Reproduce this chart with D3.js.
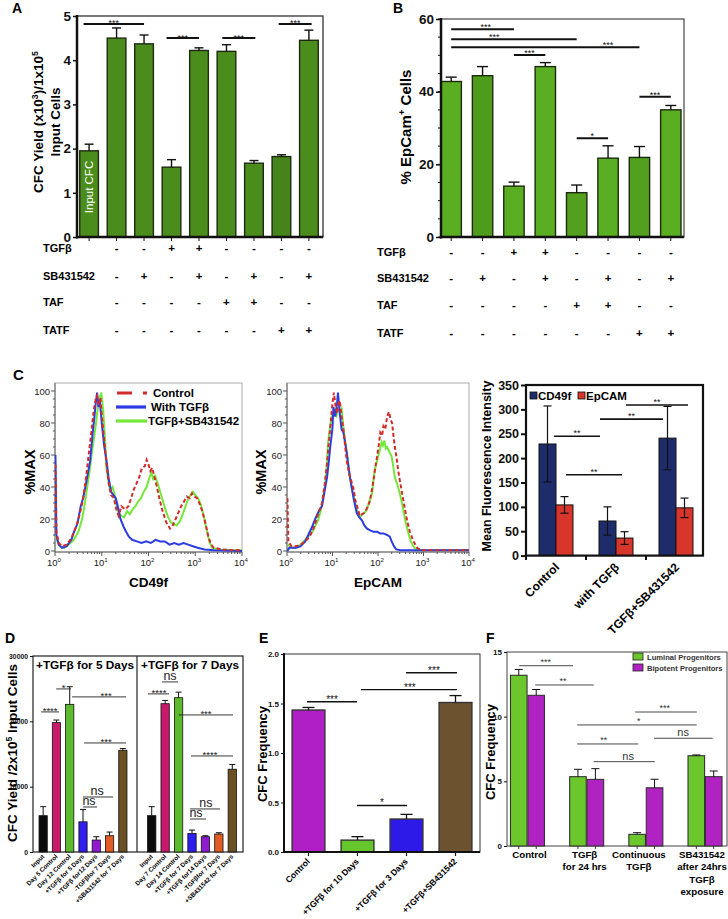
<!DOCTYPE html>
<html>
<head>
<meta charset="utf-8">
<script src="https://cdn.jsdelivr.net/npm/d3@7/dist/d3.min.js"></script>
<style>
  body { margin: 0; background: #fff; }
  svg text { font-family: "Liberation Sans", Arial, Helvetica, sans-serif; }
</style>
</head>
<body>
<svg id="figure" width="728" height="919"></svg>
<script>
// ---------------- Panel A ----------------
var aValues = [1.95, 4.50, 4.37, 1.58, 4.22, 4.20, 1.67, 1.82, 4.45];
var aErrors = [0.15, 0.23, 0.20, 0.17, 0.06, 0.15, 0.06, 0.04, 0.23];
var aRowNames = ["TGFβ", "SB431542", "TAF", "TATF"];
var aTGFb = ["", "-", "-", "+", "+", "-", "-", "-", "-"];
var aSB   = ["", "-", "+", "-", "+", "-", "+", "-", "+"];
var aTAF  = ["", "-", "-", "-", "-", "+", "+", "-", "-"];
var aTATF = ["", "-", "-", "-", "-", "-", "-", "+", "+"];
var aYTicks = [0, 1, 2, 3, 4, 5];
// [from bar, to bar, y value, label]
var aSig = [[-0.2, 2, 4.82, "***"], [2.82, 4, 4.5, "***"], [4.85, 6.05, 4.5, "***"], [6.9, 8.1, 4.82, "***"]];

// ---------------- Panel B ----------------
var bValues = [42.8, 44.4, 14.0, 46.9, 12.2, 21.7, 21.9, 35.0];
var bErrors = [1.2, 2.5, 1.1, 1.1, 2.1, 3.4, 3.0, 1.2];
var bTGFb = ["-", "-", "+", "+", "-", "-", "-", "-"];
var bSB   = ["-", "+", "-", "+", "-", "+", "-", "+"];
var bTAF  = ["-", "-", "-", "-", "+", "+", "-", "-"];
var bTATF = ["-", "-", "-", "-", "-", "-", "+", "+"];
var bYTicks = [0, 20, 40, 60];
// [from, to, y, label, label position]
var bSig = [[0, 2, 57.2, "***", 1.1], [0, 4, 54.4, "***", 1.37], [0, 6, 52.2, "***", 5.0],
            [2, 3, 50.1, "***"], [4, 5, 27.2, "*"], [6, 7, 38.6, "***"]];

// ---------------- Panel C : histograms [log10 intensity, %MAX] ----------------
var cd49fControl = [[0.01,54],[0.03,12],[0.08,5],[0.15,3],[0.25,4],[0.35,8],[0.45,15],[0.52,22],[0.6,32],[0.66,45],[0.72,60],[0.78,75],[0.83,88],[0.87,95],[0.9,97],[0.93,91],[0.97,96],[1.0,85],[1.05,70],[1.1,55],[1.15,42],[1.2,35],[1.26,33],[1.32,25],[1.36,22],[1.42,28],[1.5,26],[1.57,28],[1.63,33],[1.68,38],[1.74,42],[1.8,46],[1.86,52],[1.92,53],[1.96,57],[2.0,54],[2.04,50],[2.08,52],[2.13,46],[2.18,40],[2.24,32],[2.3,25],[2.38,18],[2.46,14],[2.52,16],[2.58,20],[2.64,24],[2.7,28],[2.76,31],[2.82,34],[2.88,33],[2.93,36],[2.98,34],[3.04,33],[3.1,29],[3.16,24],[3.22,17],[3.28,9],[3.34,4],[3.4,2],[3.6,1],[3.8,0.5],[4.0,0.5]];
var cd49fTGFb = [[0.01,60],[0.03,10],[0.08,4],[0.15,2],[0.25,3],[0.35,7],[0.42,13],[0.48,17],[0.55,28],[0.6,33],[0.65,40],[0.7,48],[0.75,56],[0.8,72],[0.84,83],[0.87,92],[0.9,99],[0.93,90],[0.96,94],[1.0,80],[1.05,66],[1.1,57],[1.15,45],[1.2,37],[1.25,35],[1.3,33],[1.35,27],[1.4,20],[1.47,15],[1.52,12],[1.58,9],[1.65,7],[1.75,6],[1.85,5],[1.95,6],[2.05,5],[2.15,7],[2.25,6],[2.35,6],[2.45,4],[2.55,5],[2.65,4],[2.75,5],[2.85,4],[2.95,3],[3.05,2],[3.2,1],[3.4,0.5],[4.0,0]];
var cd49fTGFbSB = [[0.02,10],[0.05,6],[0.1,3],[0.2,2],[0.3,4],[0.4,7],[0.5,12],[0.58,20],[0.64,30],[0.68,38],[0.74,50],[0.79,62],[0.83,70],[0.87,78],[0.9,86],[0.95,95],[0.99,99],[1.03,88],[1.07,70],[1.1,52],[1.14,44],[1.18,38],[1.23,40],[1.27,36],[1.32,28],[1.36,24],[1.42,22],[1.48,21],[1.54,25],[1.6,23],[1.66,26],[1.72,28],[1.78,31],[1.84,33],[1.9,37],[1.96,40],[2.01,45],[2.06,49],[2.1,45],[2.14,47],[2.19,43],[2.24,38],[2.3,32],[2.36,26],[2.42,21],[2.48,18],[2.53,17],[2.6,16],[2.66,18],[2.72,22],[2.78,27],[2.84,32],[2.9,35],[2.95,37],[3.0,35],[3.06,33],[3.12,29],[3.18,22],[3.24,14],[3.3,6],[3.36,2],[3.5,1],[3.8,0.5],[4.0,0.5]];
var epcamControl = [[0.01,33],[0.03,6],[0.1,3],[0.2,3],[0.3,4],[0.4,6],[0.5,9],[0.58,14],[0.65,20],[0.72,26],[0.77,30],[0.83,42],[0.88,55],[0.92,68],[0.96,80],[0.99,90],[1.03,99],[1.07,90],[1.1,86],[1.13,92],[1.16,94],[1.2,84],[1.24,76],[1.28,65],[1.32,55],[1.37,48],[1.43,42],[1.47,38],[1.5,32],[1.55,27],[1.6,22],[1.65,23],[1.71,24],[1.76,27],[1.82,31],[1.86,37],[1.9,44],[1.94,52],[1.98,59],[2.02,67],[2.05,74],[2.09,72],[2.12,78],[2.16,76],[2.2,84],[2.24,87],[2.28,82],[2.31,80],[2.34,72],[2.37,65],[2.41,58],[2.44,51],[2.48,44],[2.53,36],[2.58,28],[2.64,19],[2.7,12],[2.78,6],[2.86,2],[2.95,0.5],[3.5,0.5],[4.0,0.5]];
var epcamTGFb = [[0.01,0],[0.05,2],[0.1,2],[0.2,2],[0.3,3],[0.4,6],[0.5,12],[0.55,15],[0.62,20],[0.7,25],[0.77,28],[0.83,38],[0.88,46],[0.92,56],[0.95,65],[0.98,72],[1.0,77],[1.02,90],[1.06,84],[1.1,92],[1.12,99],[1.16,86],[1.2,76],[1.24,74],[1.27,69],[1.31,62],[1.34,55],[1.38,47],[1.42,40],[1.47,32],[1.53,24],[1.59,21],[1.65,19],[1.7,16],[1.76,14],[1.82,13],[1.9,12],[1.98,12],[2.05,11],[2.12,11],[2.2,10],[2.26,9],[2.3,6],[2.35,3],[2.4,1],[2.5,0.5],[3.0,0.5],[4.0,0.5]];
var epcamTGFbSB = [[0.02,4],[0.1,2],[0.2,2],[0.3,4],[0.4,7],[0.5,10],[0.58,13],[0.64,17],[0.68,19],[0.74,25],[0.8,35],[0.84,42],[0.88,55],[0.9,67],[0.95,78],[0.98,84],[1.02,86],[1.06,88],[1.09,85],[1.12,88],[1.16,87],[1.2,89],[1.23,80],[1.27,70],[1.32,61],[1.38,46],[1.44,37],[1.5,30],[1.55,25],[1.6,21],[1.66,23],[1.71,24],[1.76,26],[1.81,31],[1.87,36],[1.9,44],[1.93,51],[1.97,55],[2.0,59],[2.04,63],[2.08,68],[2.11,66],[2.14,69],[2.17,64],[2.2,65],[2.25,62],[2.3,59],[2.34,52],[2.37,46],[2.42,42],[2.48,36],[2.54,28],[2.6,19],[2.66,12],[2.72,6],[2.8,2],[2.9,0.5],[3.5,0.5],[4.0,0.5]];
var histLegend = ["Control", "With TGFβ", "TGFβ+SB431542"];
var histYTicks = [0, 20, 40, 60, 80, 100];

// ---------------- Panel C : mean fluorescence intensity ----------------
var mfiGroups = ["Control", "with TGFβ", "TGFβ+SB431542"];
var mfiMarkers = ["CD49f", "EpCAM"];
var mfiCD49f = [229, 71, 241];
var mfiCD49fErr = [78, 29, 65];
var mfiEpCAM = [104, 36, 98];
var mfiEpCAMErr = [17, 13, 20];
var mfiYTicks = [0, 50, 100, 150, 200, 250, 300, 350];
// [from, to (group units), y, label]
var mfiSig = [[1.667, 2.7, 309, "**"], [1.233, 2.283, 280, "**"], [0.467, 1.233, 245, "**"], [0.667, 1.6, 166, "**"]];

// ---------------- Panel D ----------------
var dTitles = ["+TGFβ for 5 Days", "+TGFβ for 7 Days"];
var dLabels5 = ["Input", "Day 5 Control", "Day 12 Control", "+TGFβ for 5 Days", "+TGFβ for12 Days", "-TGFβfor 7 Days", "+SB431542 for 7 Days"];
var dValues5 = [5560, 19800, 22600, 4620, 1830, 2490, 15570];
var dErrors5 = [1380, 400, 2700, 1900, 510, 560, 260];
var dLabels7 = ["Input", "Day 7 Control", "Day 14 Control", "+TGFβ for 7 Days", "+TGFβ for14 Days", "-TGFβfor 7 Days", "+SB431542 for 7 Days"];
var dValues7 = [5560, 22700, 23620, 2850, 2340, 2750, 12670];
var dErrors7 = [1380, 500, 850, 510, 150, 200, 720];
var dYTicks = [0, 10000, 20000, 30000];
var dSig5 = [[-0.15, 1.2, 21440, "****"], [0.98, 2.1, 24960, "*"], [2.18, 6.25, 23740, "***", 4.74],
             [3.08, 6.25, 16690, "***", 4.74], [3, 5.27, 8420, "ns", 4.06], [3, 4.06, 6890, "ns", 3.45]];
var dSig7 = [[-0.28, 1.29, 24200, "****", 0.54], [0.77, 1.96, 26030, "ns", 1.36], [2.03, 6.05, 20980, "***", 4.04],
             [2.93, 6.05, 14700, "****", 4.34], [2.85, 5.09, 6590, "ns", 4.04], [2.85, 4.04, 5050, "ns", 3.3]];

// ---------------- Panel E ----------------
var eLabels = ["Control", "+TGFβ for 10 Days", "+TGFβ for 3 Days", "+TGFβ+SB431542"];
var eValues = [1.434, 0.12, 0.333, 1.51];
var eErrors = [0.026, 0.035, 0.047, 0.07];
var eYTicks = [0, 0.5, 1.0, 1.5, 2.0];
var eSig = [[-0.03, 0.99, 1.518, "***"], [1.07, 3.03, 1.64, "***", 2.07], [1.99, 3.03, 1.81, "***", 2.56], [0.99, 2.01, 0.47, "*"]];

// ---------------- Panel F ----------------
var fGroups = [["Control"], ["TGFβ", "for 24 hrs"], ["Continuous", "TGFβ"], ["SB431542", "after 24hrs", "TGFβ", "exposure"]];
var fSeries = ["Luminal Progenitors", "Bipotent Progenitors"];
var fLuminal = [13.2, 5.36, 0.9, 6.98];
var fLuminalErr = [0.45, 0.57, 0.13, 0.06];
var fBipotent = [11.65, 5.15, 4.5, 5.36];
var fBipotentErr = [0.45, 0.83, 0.66, 0.44];
var fYTicks = [0, 5, 10, 15];
var fSig = [[-0.14, 0.77, 13.94, "***", 0.31], [0.13, 1.12, 12.45, "**", 0.6], [1.82, 2.86, 10.36, "***", 2.32],
            [0.84, 2.86, 9.36, "*", 1.88], [2.14, 3.13, 8.33, "ns", 2.63], [0.84, 1.87, 7.89, "**", 1.29],
            [1.12, 2.15, 6.52, "ns", 1.7]];

// =====================================================================
var svg = d3.select("#figure");

function ctr(scale, i) {
  return scale(scale.domain()[0]) + scale.bandwidth() / 2 + i * scale.step();
}
function txt(g, x, y, s, size, weight, anchor) {
  return g.append("text").attr("x", x).attr("y", y).attr("font-size", size)
    .attr("font-weight", weight || "bold").attr("text-anchor", anchor || "start").text(s);
}
// text with superscripts: parts = [[string, isSup], ...]
function rich(t, parts, size) {
  var up = false;
  parts.forEach(function(p) {
    var ts = t.append("tspan").text(p[0]);
    if (p[1] && !up) { ts.attr("dy", -size * 0.38).attr("font-size", size * 0.65); up = true; }
    else if (!p[1] && up) { ts.attr("dy", size * 0.38); up = false; }
    else if (p[1]) ts.attr("font-size", size * 0.65);
  });
  return t;
}
function vlabel(g, x, y, size) {
  return g.append("text").attr("transform", "translate(" + x + "," + y + ") rotate(-90)")
    .attr("text-anchor", "middle").attr("font-size", size).attr("font-weight", "bold");
}
function sigLine(g, x1, x2, y, label, o) {
  o = o || {};
  g.append("line").attr("x1", x1).attr("x2", x2).attr("y1", y).attr("y2", y)
    .attr("stroke", o.color || "#111").attr("stroke-width", o.width || 1.5);
  var ns = label === "ns";
  g.append("text").attr("x", o.tx != null ? o.tx : (x1 + x2) / 2)
    .attr("y", ns ? y - 2 : y + (o.dy != null ? o.dy : 2))
    .attr("text-anchor", "middle").attr("font-size", ns ? (o.nsfs || 11) : (o.fs || 9))
    .attr("fill", o.color || "#111").text(label);
}
function errUp(g, x, yBar, yTop, halfCap, w) {
  g.append("line").attr("x1", x).attr("x2", x).attr("y1", yBar).attr("y2", yTop)
    .attr("stroke", "#111").attr("stroke-width", w);
  g.append("line").attr("x1", x - halfCap).attr("x2", x + halfCap).attr("y1", yTop).attr("y2", yTop)
    .attr("stroke", "#111").attr("stroke-width", w);
}
function yAxis(g, scale, x, ticks, size, fsize, fmt) {
  var ax = d3.axisLeft(scale).tickValues(ticks).tickSize(size).tickPadding(2);
  ax.tickFormat(fmt || d3.format("d"));
  var a = g.append("g").attr("transform", "translate(" + x + ",0)").call(ax);
  a.select(".domain").remove();
  a.selectAll("text").attr("font-size", fsize).attr("font-weight", "bold").attr("fill", "#111");
  a.selectAll("line").attr("stroke", "#111");
  return a;
}

// ---------------- draw A ----------------
(function() {
  var g = svg.append("g");
  txt(g, 12, 13, "A", 14);
  var x = d3.scaleBand().domain(d3.range(aValues.length)).range([77, 321]).paddingInner(0.32).paddingOuter(0.1);
  var y = d3.scaleLinear().domain([0, 5]).range([237, 16]);
  var fills = ["#4b8d1d", "#4b8d1d", "#4b8d1d", "#4b8d1d", "#4b8d1d", "#4b8d1d", "#4b8d1d", "#45841a", "#4b8d1d"];
  g.append("rect").attr("x", 77).attr("y", 16).attr("width", 246).attr("height", 221)
    .attr("fill", "none").attr("stroke", "#333").attr("stroke-width", 1.3);
  g.selectAll(".barA").data(aValues).enter().append("rect").attr("class", "barA")
    .attr("x", function(d, i) { return x(i); }).attr("y", function(d) { return y(d); })
    .attr("width", x.bandwidth()).attr("height", function(d) { return y(0) - y(d); })
    .attr("fill", function(d, i) { return fills[i]; }).attr("stroke", "#1e2a10").attr("stroke-width", 1.4);
  aValues.forEach(function(v, i) { errUp(g, ctr(x, i), y(v), y(v + aErrors[i]), 4.5, 1.4); });
  g.append("line").attr("x1", 77).attr("x2", 77).attr("y1", 15).attr("y2", 238.5).attr("stroke", "#111").attr("stroke-width", 2.5);
  g.append("line").attr("x1", 76).attr("x2", 323).attr("y1", 237).attr("y2", 237).attr("stroke", "#111").attr("stroke-width", 2.5);
  var ya = yAxis(g, y, 77, aYTicks, 4, 13.5);
  ya.selectAll("line").attr("stroke-width", 1.5);
  aValues.forEach(function(v, i) {
    g.append("line").attr("x1", ctr(x, i)).attr("x2", ctr(x, i)).attr("y1", 237).attr("y2", 241).attr("stroke", "#111").attr("stroke-width", 1);
  });
  g.append("text").attr("transform", "translate(93," + 187 + ") rotate(-90)").attr("text-anchor", "middle")
    .attr("font-size", 11.5).attr("fill", "#fff").text("Input CFC");
  aSig.forEach(function(s) { sigLine(g, ctr(x, s[0]), ctr(x, s[1]), y(s[2]), s[3], { width: 2, fs: 9, dy: 2.5 }); });
  rich(vlabel(g, 43, 122, 13.5), [["CFC Yield (x10", 0], ["3", 1], [")/1x10", 0], ["5", 1]], 13.5);
  vlabel(g, 60, 122, 13.5).text("Input Cells");
  var rowY = [248, 276, 302, 330];
  var rows = [aTGFb, aSB, aTAF, aTATF];
  rows.forEach(function(r, k) {
    txt(g, 43, rowY[k] + 4, aRowNames[k], 11);
    r.forEach(function(s, i) { if (s) txt(g, ctr(x, i), rowY[k] + 4, s, 11.5, "bold", "middle"); });
  });
})();

// ---------------- draw B ----------------
(function() {
  var g = svg.append("g");
  txt(g, 393, 13, "B", 14);
  var x = d3.scaleBand().domain(d3.range(bValues.length)).range([441, 681]).paddingInner(0.35).paddingOuter(0);
  var y = d3.scaleLinear().domain([0, 60]).range([237, 19]);
  var fills = ["#5aae22", "#4f9c1c", "#5aae22", "#5aae22", "#52a01d", "#5aae22", "#52a01d", "#5aae22"];
  g.append("rect").attr("x", 441).attr("y", 19).attr("width", 243).attr("height", 218)
    .attr("fill", "none").attr("stroke", "#444").attr("stroke-width", 1.2);
  g.selectAll(".barB").data(bValues).enter().append("rect").attr("class", "barB")
    .attr("x", function(d, i) { return x(i); }).attr("y", function(d) { return y(d); })
    .attr("width", x.bandwidth()).attr("height", function(d) { return y(0) - y(d); })
    .attr("fill", function(d, i) { return fills[i]; }).attr("stroke", "#1e2a10").attr("stroke-width", 1.4);
  bValues.forEach(function(v, i) { errUp(g, ctr(x, i), y(v), y(v + bErrors[i]), 5.5, 1.4); });
  g.append("line").attr("x1", 441).attr("x2", 441).attr("y1", 18).attr("y2", 238.5).attr("stroke", "#111").attr("stroke-width", 2.5);
  g.append("line").attr("x1", 440).attr("x2", 684).attr("y1", 237).attr("y2", 237).attr("stroke", "#111").attr("stroke-width", 2.5);
  var minor = d3.range(0, 61, 5);
  minor.forEach(function(v) {
    g.append("line").attr("x1", 438).attr("x2", 441).attr("y1", y(v)).attr("y2", y(v)).attr("stroke", "#111").attr("stroke-width", 1);
  });
  var ya = yAxis(g, y, 441, bYTicks, 5, 13.5);
  ya.selectAll("line").attr("stroke-width", 1.5);
  bValues.forEach(function(v, i) {
    g.append("line").attr("x1", ctr(x, i)).attr("x2", ctr(x, i)).attr("y1", 237).attr("y2", 241).attr("stroke", "#111").attr("stroke-width", 1);
  });
  bSig.forEach(function(s) {
    sigLine(g, ctr(x, s[0]), ctr(x, s[1]), y(s[2]), s[3], { width: 2, fs: 9, dy: 1, tx: s[4] != null ? ctr(x, s[4]) : null });
  });
  rich(vlabel(g, 411, 127, 15), [["% EpCam", 0], ["+", 1], [" Cells", 0]], 15);
  var rowY = [251.5, 278, 305, 333];
  var rows = [bTGFb, bSB, bTAF, bTATF];
  rows.forEach(function(r, k) {
    txt(g, 377, rowY[k] + 4, aRowNames[k], 11);
    r.forEach(function(s, i) { txt(g, ctr(x, i), rowY[k] + 4, s, 11.5, "bold", "middle"); });
  });
})();

// ---------------- draw C histograms ----------------
function histogram(x0, x1, curves, title, yLabX, tickRight, legend) {
  var g = svg.append("g");
  var hx = d3.scaleLog().domain([1, 1e4]).range([x0, x1]);
  var hy = d3.scaleLinear().domain([0, 100]).range([551, 391]);
  var id = "clip" + Math.round(x0);
  g.append("clipPath").attr("id", id).append("rect").attr("x", x0).attr("y", 383).attr("width", x1 - x0).attr("height", 170);
  g.append("rect").attr("x", x0).attr("y", 383).attr("width", x1 - x0).attr("height", 169)
    .attr("fill", "none").attr("stroke", "#aaa").attr("stroke-width", 1);
  g.append("line").attr("x1", x0).attr("x2", x0).attr("y1", 383).attr("y2", 552).attr("stroke", "#666");
  g.append("line").attr("x1", x0).attr("x2", x1).attr("y1", 552).attr("y2", 552).attr("stroke", "#666");
  d3.range(0, 101, 5).forEach(function(v) {
    var major = v % 20 === 0;
    g.append("line").attr("x1", x0 - (major ? 4 : 2)).attr("x2", x0).attr("y1", hy(v)).attr("y2", hy(v)).attr("stroke", "#555");
  });
  histYTicks.forEach(function(v) { txt(g, tickRight, hy(v) + 3.5, v, 9.5, "normal", "end").attr("fill", "#222"); });
  hx.ticks().forEach(function(v) {
    var e = Math.log10(v), major = Math.abs(e - Math.round(e)) < 1e-9;
    g.append("line").attr("x1", hx(v)).attr("x2", hx(v)).attr("y1", 552).attr("y2", 552 + (major ? 4 : 2)).attr("stroke", "#555");
    if (major) {
      var t = g.append("text").attr("x", hx(v) - 1).attr("y", 566).attr("text-anchor", "middle").attr("font-size", 9.5).attr("fill", "#222");
      rich(t, [["10", 0], [String(Math.round(e)), 1]], 9.5);
    }
  });
  var line = d3.line().x(function(d) { return hx(Math.pow(10, d[0])); }).y(function(d) { return hy(d[1]); });
  var cg = g.append("g").attr("clip-path", "url(#" + id + ")");
  cg.append("path").datum(curves[2]).attr("d", line).attr("fill", "none").attr("stroke", "#74e83a").attr("stroke-width", 2);
  cg.append("path").datum(curves[1]).attr("d", line).attr("fill", "none").attr("stroke", "#2b3ce2").attr("stroke-width", 2);
  cg.append("path").datum(curves[0]).attr("d", line).attr("fill", "none").attr("stroke", "#d42a2a").attr("stroke-width", 2)
    .attr("stroke-dasharray", "4,2.5");
  txt(g, (x0 + x1) / 2, 587, title, 13.5, "bold", "middle");
  vlabel(g, yLabX, 472, 14.5).text("%MAX");
  if (legend) {
    var ly = [393, 407, 421];
    g.append("line").attr("x1", 117).attr("x2", 147).attr("y1", ly[0]).attr("y2", ly[0]).attr("stroke", "#d42a2a")
      .attr("stroke-width", 3.2).attr("stroke-dasharray", "15,11,4");
    g.append("line").attr("x1", 116).attr("x2", 146).attr("y1", ly[1]).attr("y2", ly[1]).attr("stroke", "#2b3ce2").attr("stroke-width", 3.2);
    g.append("line").attr("x1", 116).attr("x2", 147).attr("y1", ly[2]).attr("y2", ly[2]).attr("stroke", "#74e83a").attr("stroke-width", 3.2);
    txt(g, 153, ly[0] + 4, histLegend[0], 11.5);
    txt(g, 151, ly[1] + 4, histLegend[1], 11.5);
    txt(g, 148, ly[2] + 4, histLegend[2], 11.5);
  }
}
histogram(55, 242, [cd49fControl, cd49fTGFb, cd49fTGFbSB], "CD49f", 35, 50, true);
histogram(287, 469, [epcamControl, epcamTGFb, epcamTGFbSB], "EpCAM", 266, 282, false);
txt(svg, 13, 380, "C", 15);

// ---------------- draw C MFI ----------------
(function() {
  var g = svg.append("g");
  var x = d3.scaleBand().domain(mfiGroups).range([526, 706]);
  var xs = d3.scaleBand().domain(mfiMarkers).range([0, 60]).paddingOuter(0.765);
  var y = d3.scaleLinear().domain([0, 350]).range([555.6, 385]);
  var vals = [mfiCD49f, mfiEpCAM], errs = [mfiCD49fErr, mfiEpCAMErr], cols = ["#1e2c6c", "#d8352b"];
  mfiMarkers.forEach(function(m, k) {
    g.selectAll(".mfi" + k).data(vals[k]).enter().append("rect")
      .attr("x", function(d, i) { return x(mfiGroups[i]) + xs(m); }).attr("y", function(d) { return y(d); })
      .attr("width", xs.bandwidth()).attr("height", function(d) { return y(0) - y(d); })
      .attr("fill", cols[k]).attr("stroke", "#111").attr("stroke-width", 1);
    vals[k].forEach(function(v, i) {
      var cx = x(mfiGroups[i]) + xs(m) + xs.bandwidth() / 2;
      g.append("line").attr("x1", cx).attr("x2", cx).attr("y1", y(v - errs[k][i])).attr("y2", y(v + errs[k][i])).attr("stroke", "#111").attr("stroke-width", 1.2);
      [v - errs[k][i], v + errs[k][i]].forEach(function(e) {
        g.append("line").attr("x1", cx - 4).attr("x2", cx + 4).attr("y1", y(e)).attr("y2", y(e)).attr("stroke", "#111").attr("stroke-width", 1.2);
      });
    });
  });
  g.append("rect").attr("x", 526).attr("y", 385).attr("width", 177).attr("height", 170.6)
    .attr("fill", "none").attr("stroke", "#111").attr("stroke-width", 2.2);
  var ya = yAxis(g, y, 526, mfiYTicks, 5, 12.5);
  ya.selectAll("line").attr("stroke-width", 2);
  mfiGroups.forEach(function(gname) {
    g.append("line").attr("x1", x(gname)).attr("x2", x(gname)).attr("y1", 555).attr("y2", 560).attr("stroke", "#111").attr("stroke-width", 2);
    g.append("text").attr("transform", "translate(" + (x(gname) + 34) + ",568) rotate(-45)").attr("text-anchor", "end")
      .attr("font-size", 12).attr("font-weight", "bold").text(gname);
  });
  mfiSig.forEach(function(s) {
    var x0 = x(mfiGroups[0]);
    sigLine(g, x0 + s[0] * x.step(), x0 + s[1] * x.step(), y(s[2]), s[3], { width: 1.6, fs: 9, dy: 0 });
  });
  vlabel(g, 491, 466, 12.5).text("Mean Fluorescence Intensity");
  g.append("rect").attr("x", 530).attr("y", 392).attr("width", 7).attr("height", 7).attr("fill", cols[0]).attr("stroke", "#111").attr("stroke-width", 0.8);
  txt(g, 538, 400, mfiMarkers[0], 11.5);
  g.append("rect").attr("x", 578).attr("y", 392).attr("width", 7).attr("height", 7).attr("fill", cols[1]).attr("stroke", "#111").attr("stroke-width", 0.8);
  txt(g, 586, 400, mfiMarkers[1], 11.5);
})();

// ---------------- draw D ----------------
(function() {
  var g = svg.append("g");
  txt(g, 5, 643, "D", 14);
  var y = d3.scaleLinear().domain([0, 30000]).range([852, 656]);
  var cols = ["#0b0b0b", "#c8196a", "#5cba2e", "#2f1ef0", "#8f1ad0", "#e25a24", "#6b5121"];
  g.append("rect").attr("x", 33).attr("y", 656).attr("width", 210).attr("height", 196).attr("fill", "none").attr("stroke", "#222").attr("stroke-width", 1.2);
  g.append("line").attr("x1", 137).attr("x2", 137).attr("y1", 656).attr("y2", 852).attr("stroke", "#222").attr("stroke-width", 1.2);
  var sets = [[dLabels5, dValues5, dErrors5, dSig5, [36.5, 129.5], 85],
              [dLabels7, dValues7, dErrors7, dSig7, [145, 239], 190]];
  sets.forEach(function(s, k) {
    var x = d3.scaleBand().domain(s[0]).range(s[4]).paddingInner(0.38).paddingOuter(0.19);
    g.selectAll(".barD" + k).data(s[1]).enter().append("rect")
      .attr("x", function(d, i) { return x(s[0][i]); }).attr("y", function(d) { return y(d); })
      .attr("width", x.bandwidth()).attr("height", function(d) { return y(0) - y(d); })
      .attr("fill", function(d, i) { return cols[i]; }).attr("stroke", "#111").attr("stroke-width", 0.8);
    s[1].forEach(function(v, i) { errUp(g, ctr(x, i), y(v), y(v + s[2][i]), 3, 1); });
    s[0].forEach(function(l, i) {
      g.append("text").attr("transform", "translate(" + (ctr(x, i) + 1.5) + ",857) rotate(-45)").attr("text-anchor", "end")
        .attr("font-size", 6.3).attr("font-weight", "bold").text(l);
    });
    s[3].forEach(function(q) {
      sigLine(g, ctr(x, q[0]), ctr(x, q[1]), y(q[2]), q[3], { width: 0.9, fs: 9.5, dy: 2.5, nsfs: 12.5, color: "#222", tx: q[4] != null ? ctr(x, q[4]) : null });
    });
    txt(g, s[5], 669, dTitles[k], 11.8, "bold", "middle");
  });
  var ya = yAxis(g, y, 33, dYTicks, 3, 6.8, d3.format("d"));
  rich(vlabel(g, 17, 753, 13.5), [["CFC Yield /2x10", 0], ["5", 1], [" Input Cells", 0]], 13.5);
})();

// ---------------- draw E ----------------
(function() {
  var g = svg.append("g");
  txt(g, 259, 643, "E", 14);
  var x = d3.scaleBand().domain(eLabels).range([284, 480]).paddingInner(0.33).paddingOuter(0.165);
  var y = d3.scaleLinear().domain([0, 2]).range([852, 654]);
  var cols = ["#b01ec6", "#66c52a", "#2d19e8", "#6d5230"];
  g.append("rect").attr("x", 284).attr("y", 654).attr("width", 196).attr("height", 198).attr("fill", "none").attr("stroke", "#333").attr("stroke-width", 1);
  g.selectAll(".barE").data(eValues).enter().append("rect")
    .attr("x", function(d, i) { return x(eLabels[i]); }).attr("y", function(d) { return y(d); })
    .attr("width", x.bandwidth()).attr("height", function(d) { return y(0) - y(d); })
    .attr("fill", function(d, i) { return cols[i]; }).attr("stroke", "#333").attr("stroke-width", 1.4);
  eValues.forEach(function(v, i) { errUp(g, ctr(x, i), y(v), y(v + eErrors[i]), 6, 1.3); });
  g.append("line").attr("x1", 284).attr("x2", 284).attr("y1", 653).attr("y2", 853).attr("stroke", "#111").attr("stroke-width", 2);
  g.append("line").attr("x1", 283).attr("x2", 480).attr("y1", 852).attr("y2", 852).attr("stroke", "#111").attr("stroke-width", 2);
  yAxis(g, y, 284, eYTicks, 3, 8, d3.format(".1f"));
  eLabels.forEach(function(l, i) {
    g.append("line").attr("x1", ctr(x, i)).attr("x2", ctr(x, i)).attr("y1", 852).attr("y2", 856).attr("stroke", "#111").attr("stroke-width", 1.2);
    g.append("text").attr("transform", "translate(" + (ctr(x, i) + 2) + ",862) rotate(-45)").attr("text-anchor", "end")
      .attr("font-size", 8.6).attr("font-weight", "bold").text(l);
  });
  eSig.forEach(function(s) {
    sigLine(g, ctr(x, s[0]), ctr(x, s[1]), y(s[2]), s[3], { width: 1.4, fs: 10, dy: 1, tx: s[4] != null ? ctr(x, s[4]) : null });
  });
  vlabel(g, 267, 754, 13).text("CFC Frequency");
})();

// ---------------- draw F ----------------
(function() {
  var g = svg.append("g");
  txt(g, 486, 643, "F", 14);
  var x = d3.scaleBand().domain(d3.range(fGroups.length)).range([497.9, 734.6]);
  var xs = d3.scaleBand().domain(fSeries).range([-17, 17]).paddingInner(0.05);
  var y = d3.scaleLinear().domain([0, 15]).range([846, 652]);
  var cols = ["#6bc72c", "#b122c2"];
  var labelShift = [2, -2, -7, -3];
  g.append("rect").attr("x", 507).attr("y", 652).attr("width", 220).attr("height", 194).attr("fill", "none").attr("stroke", "#444").attr("stroke-width", 1);
  var vals = [fLuminal, fBipotent], errs = [fLuminalErr, fBipotentErr];
  fSeries.forEach(function(sname, k) {
    g.selectAll(".barF" + k).data(vals[k]).enter().append("rect")
      .attr("x", function(d, i) { return ctr(x, i) + xs(sname); }).attr("y", function(d) { return y(d); })
      .attr("width", xs.bandwidth()).attr("height", function(d) { return y(0) - y(d); })
      .attr("fill", cols[k]).attr("stroke", "#333").attr("stroke-width", 1.1);
    vals[k].forEach(function(v, i) {
      var cx = ctr(x, i) + xs(sname) + xs.bandwidth() / 2;
      errUp(g, cx, y(v), y(v + errs[k][i]), 4, 1);
      g.append("line").attr("x1", cx).attr("x2", cx).attr("y1", 846).attr("y2", 849).attr("stroke", "#333");
    });
  });
  yAxis(g, y, 507, fYTicks, 3, 8);
  fGroups.forEach(function(lines, i) {
    lines.forEach(function(l, j) { txt(g, ctr(x, i) + labelShift[i], 858 + j * 12.3, l, 9.7, "bold", "middle"); });
  });
  fSig.forEach(function(s) {
    sigLine(g, ctr(x, s[0]), ctr(x, s[1]), y(s[2]), s[3], { width: 0.9, fs: 9, dy: -1, nsfs: 11, color: "#333", tx: s[4] != null ? ctr(x, s[4]) : null });
  });
  vlabel(g, 495, 752, 13).text("CFC Frequency");
  fSeries.forEach(function(sname, k) {
    g.append("rect").attr("x", 633).attr("y", 653 + k * 11).attr("width", 10).attr("height", 7).attr("fill", cols[k]).attr("stroke", "#222").attr("stroke-width", 0.8);
    txt(g, 647, 660 + k * 11, sname, 7.6).attr("fill", "#333");
  });
})();
</script>
</body>
</html>
